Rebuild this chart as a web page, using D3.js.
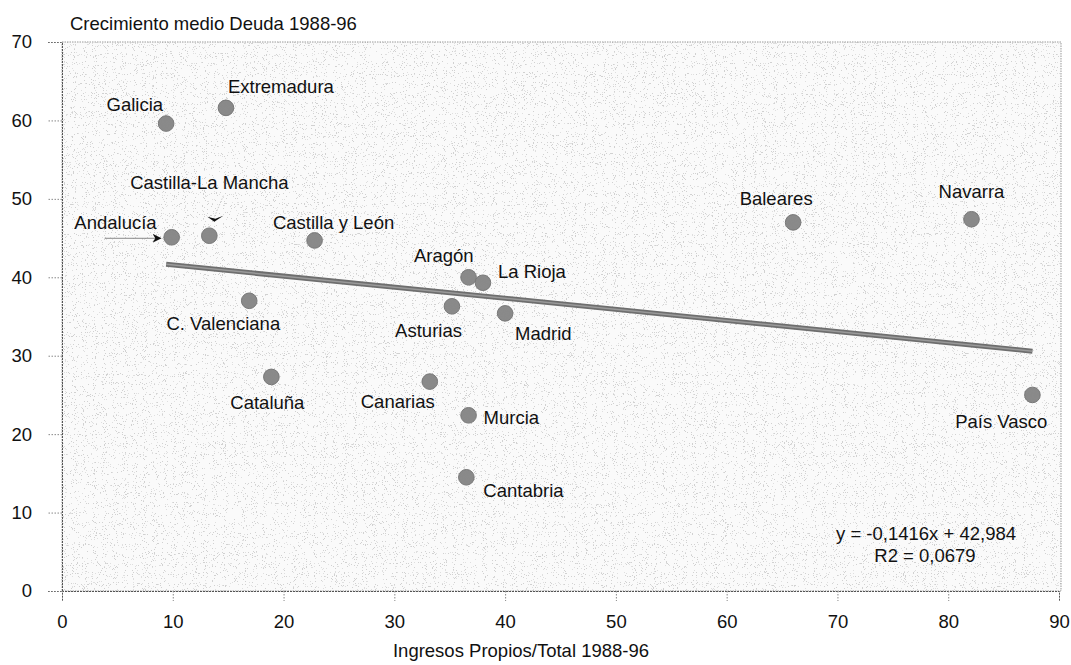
<!DOCTYPE html>
<html>
<head>
<meta charset="utf-8">
<script src="https://cdn.jsdelivr.net/npm/d3@7"></script>
<style>
  html, body { margin: 0; padding: 0; background: #ffffff; }
  svg { display: block; font-family: "Liberation Sans", Arial, Helvetica, sans-serif; }
</style>
</head>
<body>
<svg id="chart" width="1071" height="665"></svg>
<script>
// Comunidades autónomas: ingresos propios sobre total (%) y crecimiento medio de la deuda (%), 1988-96
const regions = ["Galicia", "Extremadura", "Andalucía", "Castilla-La Mancha", "Castilla y León",
  "Aragón", "La Rioja", "Asturias", "Madrid", "C. Valenciana", "Cataluña", "Canarias",
  "Murcia", "Cantabria", "Baleares", "Navarra", "País Vasco"];
const ingresosPropios = [9.4, 14.8, 9.9, 13.3, 22.8, 36.7, 38.0, 35.2, 40.0, 16.9, 18.9, 33.2,
  36.7, 36.5, 66.0, 82.1, 87.6];
const crecimientoDeuda = [59.6, 61.6, 45.1, 45.3, 44.7, 40.0, 39.3, 36.3, 35.4, 37.0, 27.3, 26.7,
  22.4, 14.5, 47.0, 47.4, 25.0];

const xTicks = [0, 10, 20, 30, 40, 50, 60, 70, 80, 90];
const yTicks = [0, 10, 20, 30, 40, 50, 60, 70];

// Linear trend reported with the chart
const trendSlope = -0.1416;
const trendIntercept = 42.984;
const trendR2 = "0,0679";
const trendLabel = "y = -0,1416x + 42,984";

const titleText = "Crecimiento medio Deuda 1988-96";
const xTitle = "Ingresos Propios/Total 1988-96";

// Label placement next to each point: [dx, dy, text-anchor]
const labelPlacement = {
  "Galicia": [-3, -19, "end"],
  "Extremadura": [2, -21, "start"],
  "Andalucía": [-15, -15, "end"],
  "Castilla-La Mancha": [0, -53, "middle"],
  "Castilla y León": [19, -18, "middle"],
  "Aragón": [5, -22, "end"],
  "La Rioja": [15, -11, "start"],
  "Asturias": [10, 24, "end"],
  "Madrid": [10, 20, "start"],
  "C. Valenciana": [31, 23, "end"],
  "Cataluña": [-4, 26, "middle"],
  "Canarias": [5, 20, "end"],
  "Murcia": [15, 2, "start"],
  "Cantabria": [17, 13, "start"],
  "Baleares": [-17, -24, "middle"],
  "Navarra": [0, -28, "middle"],
  "País Vasco": [15, 27, "end"]
};

const fontSize = "18.5px";

const svg = d3.select("#chart");
const x = d3.scaleLinear().domain([0, 90]).range([62, 1059]);
const y = d3.scaleLinear().domain([0, 70]).range([591, 42]);

// Stippled grey texture for the plotting area
const defs = svg.append("defs");
const f = defs.append("filter").attr("id", "stipple")
  .attr("x", 0).attr("y", 0).attr("width", "100%").attr("height", "100%");
f.append("feTurbulence").attr("type", "fractalNoise").attr("baseFrequency", 0.9)
  .attr("numOctaves", 2).attr("seed", 7).attr("result", "noise");
f.append("feColorMatrix").attr("in", "noise").attr("type", "matrix")
  .attr("values", "0 0 0 0 0.55  0 0 0 0 0.55  0 0 0 0 0.55  3 0 0 0 -1.2")
  .attr("result", "grey");
const ct = f.append("feComponentTransfer").attr("in", "grey");
ct.append("feFuncA").attr("type", "discrete").attr("tableValues", "0 0 0 0 0 0 0 0.5 0.75");

const dotFilter = defs.append("filter").attr("id", "grain")
  .attr("x", "-20%").attr("y", "-20%").attr("width", "140%").attr("height", "140%");
dotFilter.append("feTurbulence").attr("type", "fractalNoise").attr("baseFrequency", 1.2)
  .attr("numOctaves", 1).attr("seed", 3).attr("result", "n");
dotFilter.append("feColorMatrix").attr("in", "n").attr("type", "matrix")
  .attr("values", "0 0 0 0 0.25  0 0 0 0 0.25  0 0 0 0 0.25  0 0 0 0.9 -0.35").attr("result", "g");
dotFilter.append("feComposite").attr("in", "g").attr("in2", "SourceGraphic").attr("operator", "in").attr("result", "gg");
const m = dotFilter.append("feMerge");
m.append("feMergeNode").attr("in", "SourceGraphic");
m.append("feMergeNode").attr("in", "gg");

defs.append("marker").attr("id", "arrowHead")
  .attr("viewBox", "0 0 10 10").attr("refX", 9).attr("refY", 5)
  .attr("markerWidth", 9).attr("markerHeight", 9).attr("markerUnits", "userSpaceOnUse")
  .attr("orient", "auto")
  .append("path").attr("d", "M0,0 L10,5 L0,10 L3,5 Z").attr("fill", "#111");

const [x0, x1] = x.range();
const [yb, yt] = y.range();

svg.append("rect")
  .attr("x", x0).attr("y", yt).attr("width", x1 - x0 + 2).attr("height", yb - yt)
  .attr("fill", "#fafafa");
svg.append("rect")
  .attr("x", x0).attr("y", yt).attr("width", x1 - x0 + 2).attr("height", yb - yt)
  .attr("fill", "#ffffff").attr("filter", "url(#stipple)");
svg.append("rect")
  .attr("x", x0).attr("y", yt).attr("width", x1 - x0 + 2).attr("height", yb - yt)
  .attr("fill", "none").attr("stroke", "#9a9a9a").attr("stroke-width", 1)
  .attr("stroke-dasharray", "1.5,1");

// Axes
const xAxis = svg.append("g").attr("transform", `translate(0,${yb})`)
  .call(d3.axisBottom(x).tickValues(xTicks).tickSize(10).tickPadding(14).tickFormat(d3.format("d")));
const yAxis = svg.append("g").attr("transform", `translate(${x0},0)`)
  .call(d3.axisLeft(y).tickValues(yTicks).tickSize(14).tickPadding(16).tickFormat(d3.format("d")));
[xAxis, yAxis].forEach(g => {
  g.select(".domain").attr("stroke", "#555").attr("stroke-dasharray", "2,1");
  g.selectAll(".tick line").attr("stroke", "#888").attr("stroke-dasharray", "1.5,1.5");
  g.selectAll(".tick text").attr("fill", "#111").style("font-size", fontSize)
    .style("font-family", "'Liberation Sans', Arial, sans-serif");
});

// Trend line across the observed range
const xr = d3.extent(ingresosPropios);
svg.append("line")
  .attr("x1", x(xr[0])).attr("y1", y(trendSlope * xr[0] + trendIntercept))
  .attr("x2", x(xr[1])).attr("y2", y(trendSlope * xr[1] + trendIntercept))
  .attr("stroke", "#6e6e6e").attr("stroke-width", 5);
svg.append("line")
  .attr("x1", x(xr[0])).attr("y1", y(trendSlope * xr[0] + trendIntercept))
  .attr("x2", x(xr[1])).attr("y2", y(trendSlope * xr[1] + trendIntercept))
  .attr("stroke", "#9a9a9a").attr("stroke-width", 1.5);

// Pointer arrows for the two crowded labels
const iAnd = regions.indexOf("Andalucía");
const ax = x(ingresosPropios[iAnd]), ay = y(crecimientoDeuda[iAnd]);
svg.append("line")
  .attr("x1", ax - 67).attr("y1", ay + 1).attr("x2", ax - 11).attr("y2", ay + 1)
  .attr("stroke", "#888").attr("stroke-width", 1).attr("marker-end", "url(#arrowHead)");
const iClm = regions.indexOf("Castilla-La Mancha");
const cx = x(ingresosPropios[iClm]), cy = y(crecimientoDeuda[iClm]);
svg.append("line")
  .attr("x1", cx + 14).attr("y1", cy - 40).attr("x2", cx + 3).attr("y2", cy - 14)
  .attr("stroke", "#bbb").attr("stroke-width", 0.8).attr("stroke-dasharray", "1.5,1.5");
svg.append("path")
  .attr("d", `M${cx - 2},${cy - 19} L${cx + 5},${cy - 14} L${cx + 14},${cy - 20} L${cx + 6},${cy - 17} Z`)
  .attr("fill", "#111");

// Points
const pts = regions.map((r, i) => ({ r, xv: ingresosPropios[i], yv: crecimientoDeuda[i] }));
svg.append("g").selectAll("circle").data(pts).join("circle")
  .attr("cx", d => x(d.xv)).attr("cy", d => y(d.yv)).attr("r", 7.8)
  .attr("fill", "#8a8a8a").attr("stroke", "#777").attr("stroke-width", 1)
  .attr("filter", "url(#grain)");

// Point labels
svg.append("g").selectAll("text").data(pts).join("text")
  .attr("x", d => x(d.xv) + labelPlacement[d.r][0])
  .attr("y", d => y(d.yv) + labelPlacement[d.r][1])
  .attr("text-anchor", d => labelPlacement[d.r][2])
  .attr("dominant-baseline", "central")
  .attr("fill", "#111").style("font-size", fontSize)
  .text(d => d.r);

// Title and axis title
svg.append("text").attr("x", 70).attr("y", 23).attr("dominant-baseline", "central")
  .attr("fill", "#111").style("font-size", fontSize).text(titleText);
svg.append("text").attr("x", 521).attr("y", 650).attr("dominant-baseline", "central")
  .attr("text-anchor", "middle").attr("fill", "#111").style("font-size", fontSize).text(xTitle);

// Regression equation
svg.append("text").attr("x", 926).attr("y", 533).attr("dominant-baseline", "central")
  .attr("text-anchor", "middle").attr("fill", "#111").style("font-size", fontSize).text(trendLabel);
svg.append("text").attr("x", 925).attr("y", 555).attr("dominant-baseline", "central")
  .attr("text-anchor", "middle").attr("fill", "#111").style("font-size", fontSize).text("R2 = " + trendR2);
</script>
</body>
</html>
